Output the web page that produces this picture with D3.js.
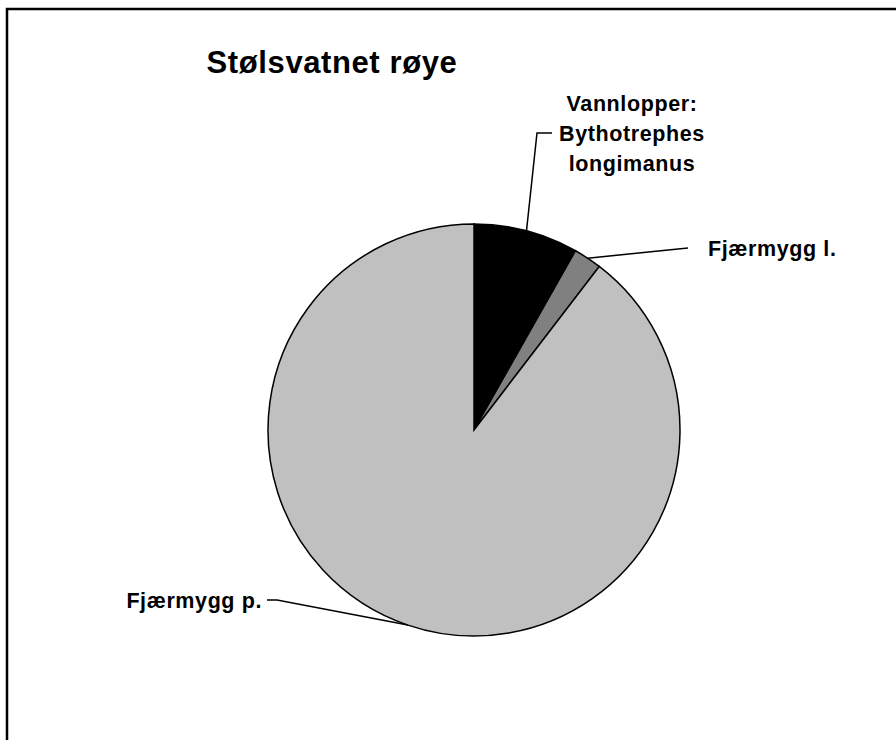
<!DOCTYPE html>
<html>
<head>
<meta charset="utf-8">
<script src="https://cdn.jsdelivr.net/npm/d3@7"></script>
<style>
  body { margin: 0; background: #fff; }
  text { font-family: Arial, "Liberation Sans", sans-serif; font-weight: bold; fill: #000; }
</style>
</head>
<body>
<div id="chart"></div>
<script>
var title = 'Stølsvatnet røye';
var categories = ['Vannlopper: Bythotrephes longimanus', 'Fjærmygg l.', 'Fjærmygg p.'];
var values = [8.2, 2.2, 89.6];
var colors = ['#000000', '#808080', '#c0c0c0'];

var width = 896,
    height = 740,
    cx = 474,
    cy = 430,
    radius = 206;

var svg = d3.select('#chart')
    .append('svg')
    .attr('width', width)
    .attr('height', height);

// chart frame, runs off the right and bottom edge
svg.append('rect')
    .attr('x', 7)
    .attr('y', 9)
    .attr('width', 900)
    .attr('height', 800)
    .attr('fill', 'none')
    .attr('stroke', '#000')
    .attr('stroke-width', 2.5);

svg.append('text')
    .attr('x', 332)
    .attr('y', 73)
    .attr('text-anchor', 'middle')
    .style('font-size', '31px')
    .style('letter-spacing', '0.6px')
    .text(title);

var data = categories.map(function (c, i) {
    return { name: c, value: values[i], color: colors[i] };
});

var pie = d3.pie()
    .sort(null)
    .value(function (d) { return d.value; });

var arc = d3.arc().innerRadius(0).outerRadius(radius);
var edge = d3.arc().innerRadius(radius).outerRadius(radius);

var g = svg.append('g')
    .attr('transform', 'translate(' + cx + ',' + cy + ')');

var arcs = pie(data);

g.selectAll('.slice')
    .data(arcs)
    .enter()
    .append('path')
    .attr('class', 'slice')
    .attr('d', arc)
    .attr('fill', function (d) { return d.data.color; })
    .attr('stroke', '#000')
    .attr('stroke-width', 1.5);

// label placement (relative to pie centre): elbow points and text anchor
var labelPos = [
    { elbow: [63, -297], end: [78, -297], tx: 158, ty: -297, anchor: 'middle' },
    { elbow: [214, -182], end: [214, -182], tx: 234, ty: -182, anchor: 'start' },
    { elbow: [-197, 170], end: [-207, 170], tx: -212, ty: 170, anchor: 'end' }
];

arcs.forEach(function (d, i) {
    var p = edge.centroid(d);
    var lp = labelPos[i];
    g.append('polyline')
        .attr('points', [p, lp.elbow, lp.end].map(function (q) { return q.join(','); }).join(' '))
        .attr('fill', 'none')
        .attr('stroke', '#000')
        .attr('stroke-width', 1.5);

    var lines = i === 0 ? ['Vannlopper:', 'Bythotrephes', 'longimanus'] : [d.data.name];
    var t = g.append('text')
        .attr('text-anchor', lp.anchor)
        .style('font-size', '21.5px')
        .style('letter-spacing', '0.6px');
    lines.forEach(function (l, k) {
        t.append('tspan')
            .attr('x', lp.tx)
            .attr('y', lp.ty + (k - (lines.length - 1) / 2) * 30)
            .attr('dy', '0.35em')
            .text(l);
    });
});
</script>
</body>
</html>
